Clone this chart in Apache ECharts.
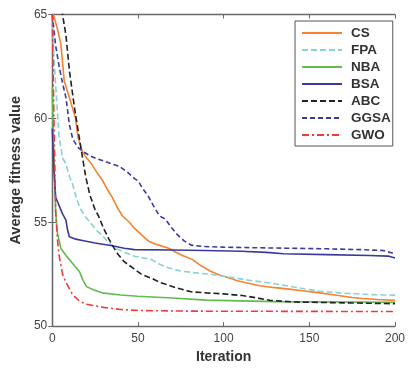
<!DOCTYPE html>
<html>
<head>
<meta charset="utf-8">
<script src="https://cdn.jsdelivr.net/npm/echarts@6/dist/echarts.min.js"></script>
<style>
  html, body { margin: 0; padding: 0; background: #fff; }
  #app { width: 408px; height: 369px; }
</style>
</head>
<body>
<div id="app"></div>
<script>
// [iteration, average fitness]
const cs = [[0, 65.2], [3, 64.3], [5, 63.6], [7, 61.8], [10, 61], [13.6, 60], [15, 59.1], [17.5, 58.4], [20, 58.1], [23, 57.8], [26, 57.4], [29, 57.06], [32, 56.6], [35, 56.2], [38, 55.7], [41, 55.3], [45, 55.0], [48, 54.7], [52, 54.4], [56, 54.1], [60, 53.95], [64, 53.85], [68, 53.75], [71, 53.6], [76, 53.4], [82, 53.2], [86, 52.95], [92, 52.65], [98, 52.45], [104, 52.3], [108, 52.18], [115, 52.05], [121, 51.94], [130, 51.85], [137, 51.79], [146, 51.7], [156, 51.6], [165, 51.5], [175, 51.38], [181, 51.33], [190, 51.28], [200, 51.24]];
const fpa = [[0, 65], [1, 62.9], [3, 60.3], [4, 59.1], [6, 58.1], [8, 57.8], [10, 57.2], [12, 56.8], [14, 56.2], [16, 55.7], [19, 55.3], [22, 55.0], [26, 54.6], [29, 54.38], [33, 54.0], [37, 53.75], [42, 53.55], [48, 53.36], [55, 53.25], [58, 53.2], [63, 52.96], [68, 52.8], [75, 52.65], [85, 52.55], [92, 52.5], [100, 52.4], [108, 52.3], [115, 52.2], [125, 52.1], [137, 51.94], [147, 51.8], [156, 51.68], [170, 51.58], [185, 51.52], [200, 51.49]];
const nba = [[0, 61.5], [1, 58], [2, 55.5], [3, 54.5], [5, 53.75], [8, 53.4], [10, 53.2], [13, 52.9], [16, 52.6], [18, 52.2], [20, 51.9], [24, 51.75], [29, 51.6], [40, 51.5], [50, 51.44], [70, 51.35], [90, 51.25], [130, 51.18], [200, 51.15]];
const bsa = [[0, 59.5], [1, 57.5], [2, 56.2], [4, 55.8], [6, 55.4], [8, 55.1], [9, 54.6], [10, 54.3], [13, 54.2], [19, 54.1], [25, 54.0], [35, 53.87], [42, 53.75], [48, 53.68], [70, 53.66], [89, 53.64], [110, 53.6], [125, 53.55], [135, 53.48], [160, 53.44], [185, 53.4], [196, 53.37], [200, 53.28]];
const abc = [[0, 70], [6, 65], [8, 64], [10, 62.3], [13, 60.5], [15.5, 59.2], [17.5, 58.2], [19.5, 57.2], [22, 56.3], [25, 55.6], [27, 55.3], [30, 54.7], [33, 54.2], [35, 53.9], [38, 53.5], [42, 53.1], [47, 52.8], [52, 52.5], [58, 52.3], [63, 52.1], [67, 52.0], [72, 51.85], [81, 51.65], [90, 51.6], [100, 51.55], [111, 51.47], [120, 51.35], [127, 51.24], [141, 51.16], [170, 51.12], [200, 51.08]];
const ggsa = [[0, 65], [2, 63.5], [4, 62.5], [6, 61.7], [8, 61], [10, 59.7], [12, 59.0], [15, 58.6], [18, 58.4], [22, 58.2], [26, 58.05], [30, 57.95], [35, 57.8], [39, 57.7], [44, 57.4], [48, 57.1], [50, 57.0], [53, 56.6], [56, 56.26], [59, 55.8], [62.6, 55.3], [66, 55.15], [70, 54.7], [73, 54.4], [77, 54.1], [81, 53.9], [88, 53.83], [100, 53.8], [120, 53.77], [137, 53.75], [160, 53.72], [180, 53.68], [193, 53.64], [197, 53.55], [200, 53.48]];
const gwo = [[0, 65], [1, 60], [2, 55.5], [3, 54.2], [4, 53.4], [6, 52.5], [8, 52.1], [12, 51.5], [16, 51.2], [20, 51.05], [30, 50.9], [40, 50.8], [50, 50.75], [80, 50.72], [200, 50.7]];

const xTicks = [0, 50, 100, 150, 200];
const yTicks = [50, 55, 60, 65];

const chart = echarts.init(document.getElementById("app"), null, { renderer: "canvas" });

const font = "Liberation Sans, Arial, sans-serif";
const frame = { lineStyle: { color: "#6a6a6a", width: 1.3 } };
const tick = { inside: true, length: 4, lineStyle: { color: "#6a6a6a" } };

const line = (name, data, color, type) => ({
  name: name,
  type: "line",
  data: data,
  symbol: "none",
  showSymbol: false,
  clip: true,
  lineStyle: { color: color, width: 1.6, type: type },
  itemStyle: { color: color },
});

chart.setOption({
  animation: false,
  grid: { left: 50, right: 11, top: 14.5, bottom: 36 },
  legend: {
    orient: "vertical",
    left: 295,
    top: 21,
    borderColor: "#555",
    borderWidth: 1,
    padding: [5, 2, 4, 6],
    itemWidth: 40,
    itemHeight: 10,
    itemGap: 3,
    itemStyle: { opacity: 0 },
    textStyle: { fontFamily: font, fontWeight: "bold", fontSize: 13.5, lineHeight: 14, color: "#333", padding: [0, 0, 0, 4] },
    data: ["CS", "FPA", "NBA", "BSA", "ABC", "GGSA", "GWO"],
  },
  xAxis: [
    {
      type: "value", min: 0, max: 200, interval: 50,
      name: "Iteration", nameLocation: "middle", nameGap: 21,
      nameTextStyle: { fontFamily: font, fontWeight: "bold", fontSize: 14, color: "#333" },
      axisLine: frame, axisTick: tick, splitLine: { show: false },
      axisLabel: { fontFamily: font, fontSize: 12, color: "#444", margin: 7,
        formatter: (v) => (xTicks.includes(v) ? String(v) : "") },
    },
    {
      type: "value", min: 0, max: 200, interval: 50, position: "top",
      axisLine: frame, axisTick: tick, axisLabel: { show: false }, splitLine: { show: false },
    },
  ],
  yAxis: [
    {
      type: "value", min: 50, max: 65, interval: 5,
      name: "Average fitness value", nameLocation: "middle", nameGap: 28,
      nameTextStyle: { fontFamily: font, fontWeight: "bold", fontSize: 14.5, color: "#333" },
      axisLine: frame, axisTick: tick, splitLine: { show: false },
      axisLabel: { fontFamily: font, fontSize: 12, color: "#444", margin: 5,
        formatter: (v) => (yTicks.includes(v) ? String(v) : "") },
    },
    {
      type: "value", min: 50, max: 65, interval: 5, position: "right",
      axisLine: frame, axisTick: tick, axisLabel: { show: false }, splitLine: { show: false },
    },
  ],
  series: [
    line("CS", cs, "#f7812f", "solid"),
    line("FPA", fpa, "#86d3d3", [6, 3]),
    line("NBA", nba, "#63bb4f", "solid"),
    line("BSA", bsa, "#3a3a9c", "solid"),
    line("ABC", abc, "#222222", [6, 3]),
    line("GGSA", ggsa, "#3a3aa6", [5, 3]),
    line("GWO", gwo, "#ef3b3b", [7, 3, 2, 3]),
  ],
});
</script>
</body>
</html>
